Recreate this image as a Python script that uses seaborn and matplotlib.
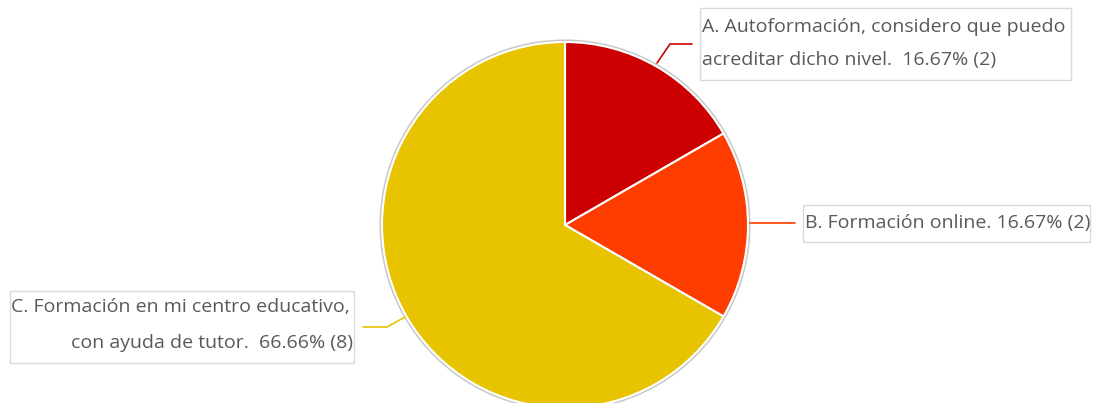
import matplotlib
matplotlib.use("Agg")
import matplotlib.pyplot as plt
import matplotlib.patches as mpatches
import seaborn as sns

# data
options = ["A. Autoformación, considero que puedo\nacreditar dicho nivel.",
           "B. Formación online.",
           "C. Formación en mi centro educativo,\ncon ayuda de tutor."]
counts = [2, 2, 8]
percents = ["16.67%", "16.67%", "66.66%"]
colors = ["#CC0000", "#FF3D00", "#E8C300"]

sns.set_theme(style="white")
plt.rcParams["font.family"] = ["Open Sans", "DejaVu Sans"]

W, H = 1094, 403
fig = plt.figure(figsize=(W / 100, H / 100), dpi=100)
ax = fig.add_axes([0, 0, 1, 1])

cx, cy, r = 565, H - 225, 183

# faint outer rim
ax.add_patch(mpatches.Circle((cx, cy), r + 1.5, facecolor="none",
                             edgecolor="#C8C8C8", lw=1.5, zorder=0))
ax.pie(counts, colors=colors, startangle=90, counterclock=False,
       center=(cx, cy), radius=r, frame=True,
       wedgeprops=dict(edgecolor="white", linewidth=1.5))
ax.set_xlim(0, W)
ax.set_ylim(0, H)
ax.set_aspect("equal")
ax.axis("off")

txt_color = "#595959"
box_color = "#D9D9D9"
fs = 14

def y(p):
    return H - p

# label A
ax.plot([657, 670, 692], [y(63), y(44), y(44)], color=colors[0], lw=1.2)
ax.add_patch(mpatches.Rectangle((700, y(80)), 371, 72, facecolor="white",
                                edgecolor=box_color, lw=1))
a1, a2 = options[0].split("\n")
ax.text(702, y(27), a1, color=txt_color, fontsize=fs, va="center", ha="left")
ax.text(702, y(60), f"{a2}  {percents[0]} ({counts[0]})", color=txt_color,
        fontsize=fs, va="center", ha="left")

# label B
ax.plot([750, 795], [y(223), y(223)], color=colors[1], lw=1.2)
ax.add_patch(mpatches.Rectangle((803, y(242)), 287, 37, facecolor="white",
                                edgecolor=box_color, lw=1))
ax.text(805, y(223), f"{options[1]} {percents[1]} ({counts[1]})",
        color=txt_color, fontsize=fs, va="center", ha="left")

# label C
ax.plot([363, 387, 405], [y(327), y(327), y(317)], color=colors[2], lw=1.2)
ax.add_patch(mpatches.Rectangle((10, y(363)), 344, 72, facecolor="white",
                                edgecolor=box_color, lw=1))
c1, c2 = options[2].split("\n")
ax.text(350, y(307), c1, color=txt_color, fontsize=fs, va="center", ha="right")
ax.text(353, y(343), f"{c2}  {percents[2]} ({counts[2]})", color=txt_color,
        fontsize=fs, va="center", ha="right")

fig.savefig("out.png", dpi=100)
